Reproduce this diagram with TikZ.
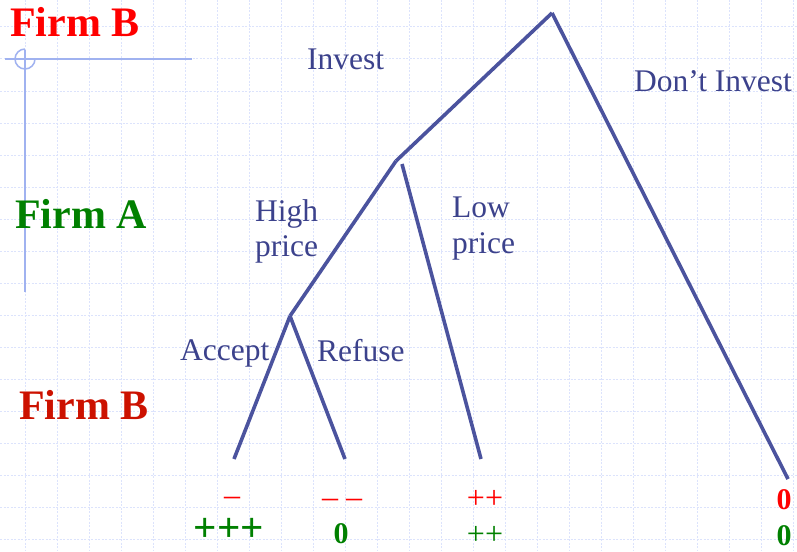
\documentclass[tikz,border=0pt]{standalone}
\usepackage{fontspec}
\setmainfont{Liberation Serif}
\definecolor{treeblue}{RGB}{75,83,158}
\definecolor{labelblue}{RGB}{60,66,140}
\definecolor{gridblue}{RGB}{220,227,252}
\definecolor{crossblue}{RGB}{160,178,240}
\definecolor{redA}{RGB}{255,0,0}
\definecolor{redB}{RGB}{204,17,0}
\definecolor{greenA}{RGB}{0,128,0}
\tikzset{
  gridline/.style={gridblue, line width=1pt, dash pattern=on 2pt off 1.5pt},
  crossline/.style={crossblue, line width=1.5pt},
  branch/.style={treeblue, line width=3.6pt},
  firmlabel/.style={anchor=base west, inner sep=0pt, font=\fontsize{42}{48}\selectfont\bfseries},
  movelabel/.style={anchor=base west, inner sep=0pt, text=labelblue, font=\fontsize{31.5}{37}\selectfont},
  payoff/.style={anchor=base, inner sep=0pt, font=\fontsize{32}{38}\selectfont},
  payzero/.style={anchor=base, inner sep=0pt, font=\fontsize{30}{36}\selectfont\bfseries}
}
\begin{document}
\begin{tikzpicture}[x=1pt,y=-1pt]
\useasboundingbox (0,0) rectangle (797,551);
% background grid
\foreach \k in {0,...,24} { \draw[gridline] (25+32*\k,0) -- (25+32*\k,551); }
\foreach \k in {0,...,16} { \draw[gridline] (0,27+32*\k) -- (797,27+32*\k); }
% crosshair decoration
\draw[crossline] (5,59) -- (192,59);
\draw[crossline] (25,50) -- (25,292);
\draw[crossline] (25,49) arc[start angle=90, end angle=360, radius=10pt];
% tree coordinates
\coordinate (root) at (552,13);
\coordinate (nA) at (396,161);
\coordinate (nAlow) at (402,164);
\coordinate (nB) at (290,316);
\coordinate (eAcc) at (234,459);
\coordinate (eRef) at (345,459);
\coordinate (eLow) at (481,459);
\coordinate (eDont) at (788,479);
% branches
\draw[branch] (root) -- (nA);
\draw[branch] (root) -- (eDont);
\draw[branch] (nA) -- (nB);
\draw[branch] (nAlow) -- (eLow);
\draw[branch] (nB) -- (eAcc);
\draw[branch] (nB) -- (eRef);
% player labels
\node[firmlabel, text=redA] (fb1) at (10,37) {Firm B};
\node[firmlabel, text=greenA] (fa) at (15,228) {Firm A};
\node[firmlabel, text=redB] (fb2) at (19,419) {Firm B};
% move labels
\node[movelabel] (inv) at (307,70) {Invest};
\node[movelabel] (dinv) at (634,92) {Don’t Invest};
\node[movelabel] (hi1) at (255,221) {High};
\node[movelabel] (hi2) at (255,256) {price};
\node[movelabel] (lo1) at (452,217) {Low};
\node[movelabel] (lo2) at (452,253) {price};
\node[movelabel] (acc) at (180,360) {Accept};
\node[movelabel] (ref) at (317,361) {Refuse};
% payoffs
\node[payoff, text=redA] (p1a) at (232,505) {–};
\node[payoff, text=greenA, font=\fontsize{41}{48}\selectfont\bfseries] (p1b) at (229,541) {+++};
\node[payoff, text=redA] (p2a) at (342,507) {– –};
\node[payzero, text=greenA] (p2b) at (341,543) {0};
\node[payoff, text=redA] (p3a) at (485,508) {++};
\node[payoff, text=greenA] (p3b) at (485,544) {++};
\node[payzero, text=redA] (p4a) at (784,509) {0};
\node[payzero, text=greenA] (p4b) at (784,545) {0};
\end{tikzpicture}
\end{document}
